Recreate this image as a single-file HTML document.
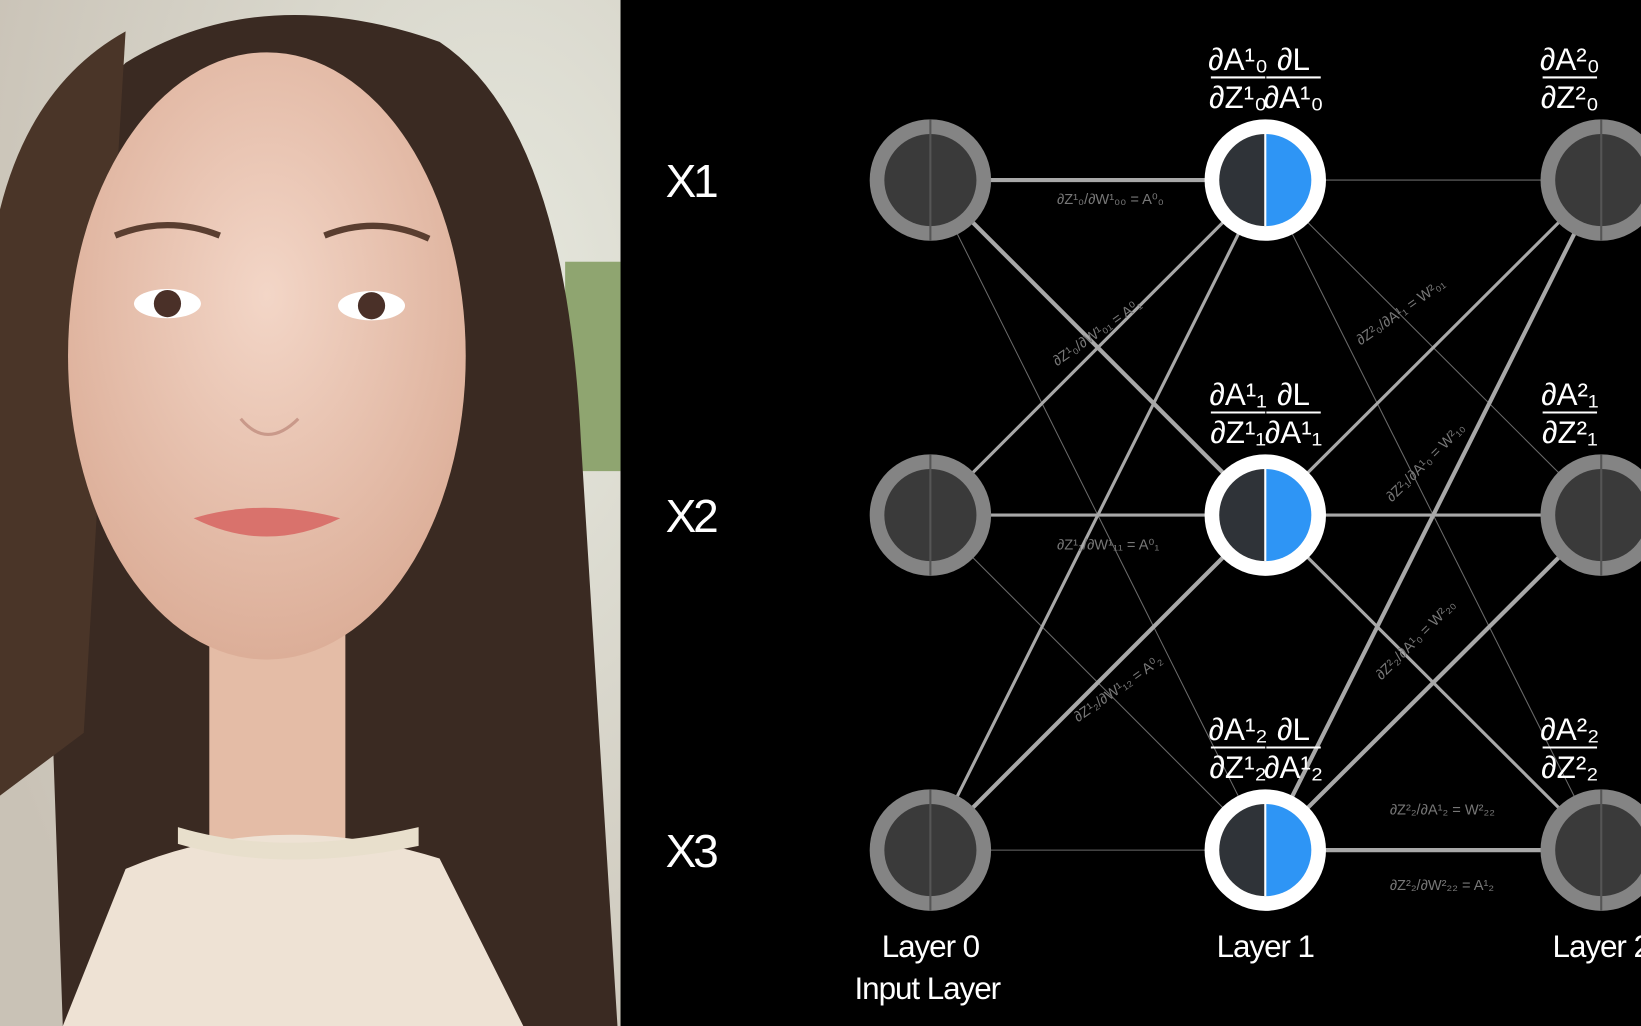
<!DOCTYPE html>
<html><head><meta charset="utf-8"><style>
html,body{margin:0;padding:0;background:#000;width:1641px;height:1026px;overflow:hidden}
svg{display:block}
text{font-family:"Liberation Sans",sans-serif}
</style></head><body>
<svg id="s" width="1641" height="1026" viewBox="0 0 1568 980" preserveAspectRatio="none" xmlns="http://www.w3.org/2000/svg">
<defs>
<radialGradient id="bg" cx="0.8" cy="0.3" r="0.9"><stop offset="0" stop-color="#e6e8de"/><stop offset="1" stop-color="#c9c2b6"/></radialGradient>
<radialGradient id="skin" cx="0.5" cy="0.4" r="0.6"><stop offset="0" stop-color="#f3d6c7"/><stop offset="1" stop-color="#dcae98"/></radialGradient>
</defs>
<g>
<rect x="0" y="0" width="593" height="980" fill="url(#bg)"/>
<rect x="540" y="250" width="53" height="200" fill="#8fa570"/>
<path d="M60 980 L40 400 Q30 150 120 60 Q250 -20 420 40 Q540 120 555 420 L590 980 Z" fill="#3a2a22"/>
<path d="M0 200 Q30 80 120 30 L80 700 L0 760 Z" fill="#4a3528"/>
<rect x="200" y="600" width="130" height="220" fill="#e4bca6"/>
<ellipse cx="255" cy="340" rx="190" ry="290" fill="url(#skin)"/>
<path d="M120 830 Q260 770 420 820 L500 980 L60 980 Z" fill="#eee2d4"/>
<path d="M170 790 Q270 820 400 790 L400 808 Q270 835 170 806 Z" fill="#e8dfcc"/>
<ellipse cx="160" cy="290" rx="32" ry="14" fill="#fff"/><circle cx="160" cy="290" r="13" fill="#4a3028"/>
<ellipse cx="355" cy="292" rx="32" ry="14" fill="#fff"/><circle cx="355" cy="292" r="13" fill="#4a3028"/>
<path d="M110 225 Q160 205 210 225" stroke="#5a3e30" stroke-width="6" fill="none"/>
<path d="M310 225 Q360 205 410 228" stroke="#5a3e30" stroke-width="6" fill="none"/>
<path d="M185 495 Q250 475 325 495 Q255 530 185 495 Z" fill="#d9726c"/>
<path d="M230 400 Q255 430 285 400" stroke="#c9998a" stroke-width="3" fill="none"/>
</g>
<rect x="593" y="0" width="975" height="980" fill="#000"/>
<g id="edges"></g>
<g id="labels" fill="#777" font-size="14"></g>
<g id="nodes"></g>
<g fill="#fff" font-size="44" letter-spacing="-3">
<text x="636" y="188">X1</text>
<text x="636" y="508">X2</text>
<text x="636" y="828">X3</text>
</g>
<g fill="#fff" font-size="30" text-anchor="middle" letter-spacing="-1">
<text x="889" y="914">Layer 0</text>
<text x="886" y="954">Input Layer</text>
<text x="1209" y="914">Layer 1</text>
<text x="1530" y="914">Layer 2</text>
</g>
</svg>
<script>
const layerX=[889,1209,1530];
const nodeY=[172,492,812];
const w01=[[4,4,1],[3,3,1],[3,4,1]];
const w12=[[1,1,1],[3,3,3],[4,4,4]];
const S='http://www.w3.org/2000/svg';
const E=document.getElementById('edges'),N=document.getElementById('nodes'),L=document.getElementById('labels');
function mk(t,a,p){const e=document.createElementNS(S,t);for(const k in a)e.setAttribute(k,a[k]);p.appendChild(e);return e;}
[w01,w12].forEach((W,l)=>{W.forEach((row,i)=>row.forEach((w,j)=>{
 const ln=mk('line',{x1:layerX[l],y1:nodeY[i],x2:layerX[l+1],y2:nodeY[j],stroke:w>=3?'#a8a8a8':'#6a6a6a','stroke-width':w},E);
 
 
}));});
layerX.forEach((x,l)=>nodeY.forEach((y,i)=>{
 const g=mk('g',{},N);
 
 
 if(l===1){
  mk('circle',{cx:x,cy:y,r:58,fill:'#fff'},g);
  mk('path',{d:`M${x} ${y-44} A44 44 0 0 0 ${x} ${y+44}Z`,fill:'#2f3338'},g);
  mk('path',{d:`M${x} ${y-44} A44 44 0 0 1 ${x} ${y+44}Z`,fill:'#2e95f5'},g);
  mk('line',{x1:x,y1:y-44,x2:x,y2:y+44,stroke:'#fff','stroke-width':2},g);
 }else{
  mk('circle',{cx:x,cy:y,r:58,fill:'#848484'},g);
  mk('circle',{cx:x,cy:y,r:44,fill:'#3a3a3a'},g);
  mk('line',{x1:x,y1:y-58,x2:x,y2:y+58,stroke:'#555','stroke-width':2},g);
 }
}));
const sub=['₀','₁','₂'];
function frac(x,y,top,bot,name){
 const g=mk('g',{fill:'#fff','font-size':30,'text-anchor':'middle'},document.getElementById('s'));
 
 
 const t1=mk('text',{x:x,y:y},g);t1.textContent=top;
 mk('line',{x1:x-26,y1:y+7,x2:x+26,y2:y+7,stroke:'#fff','stroke-width':2},g);
 const t2=mk('text',{x:x,y:y+36},g);t2.textContent=bot;
}
nodeY.forEach((y,i)=>{
 frac(1183,y-105,'∂A¹'+sub[i],'∂Z¹'+sub[i],'dA-dZ-layer1-'+i);
 frac(1236,y-105,'∂L','∂A¹'+sub[i],'dL-dA-layer1-'+i);
 frac(1500,y-105,'∂A²'+sub[i],'∂Z²'+sub[i],'dA-dZ-layer2-'+i);
});
const small=[[1010,195,'∂Z¹₀/∂W¹₀₀ = A⁰₀',0],[1010,525,'∂Z¹₁/∂W¹₁₁ = A⁰₁',0],[1328,778,'∂Z²₂/∂A¹₂ = W²₂₂',0],[1328,850,'∂Z²₂/∂W²₂₂ = A¹₂',0],[1010,350,'∂Z¹₀/∂W¹₀₁ = A⁰₁',-35],[1030,690,'∂Z¹₂/∂W¹₁₂ = A⁰₂',-35],[1300,330,'∂Z²₀/∂A¹₁ = W²₀₁',-35],[1330,480,'∂Z²₁/∂A¹₀ = W²₁₀',-45],[1320,650,'∂Z²₂/∂A¹₀ = W²₂₀',-45]];
small.forEach(s=>{const t=mk('text',{x:s[0],y:s[1],transform:`rotate(${s[3]} ${s[0]} ${s[1]})`},L);t.textContent=s[2];
 
 });
</script>
</body></html>
